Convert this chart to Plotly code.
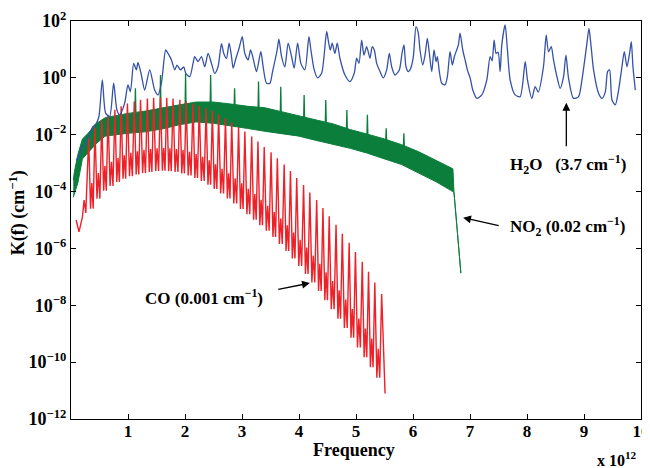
import plotly.graph_objects as go

# ---------------- data (frequencies in THz, values as log10 K) ----------------
# H2O (blue)
h2o_f = [0.093, 0.151, 0.181, 0.256, 0.327, 0.385, 0.444, 0.49, 0.55, 0.608, 0.678, 0.748, 0.806, 0.854,
         0.941, 0.999, 1.042, 1.1, 1.147, 1.175, 1.235, 1.293, 1.381, 1.468, 1.526, 1.586, 1.662, 1.702,
         1.762, 1.82, 1.86, 1.92, 1.978, 2.013, 2.083, 2.141, 2.171, 2.229, 2.289, 2.347, 2.405, 2.464,
         2.522, 2.58, 2.64, 2.68, 2.728, 2.774, 2.816, 2.844, 2.886, 2.949, 3.005, 3.049, 3.107, 3.15,
         3.195, 3.255, 3.33, 3.371, 3.43, 3.489, 3.536, 3.617, 3.647, 3.694, 3.752, 3.81, 3.87, 3.915,
         3.975, 4.033, 4.103, 4.174, 4.209, 4.267, 4.326, 4.397, 4.485, 4.513, 4.548, 4.583, 4.63, 4.671,
         4.718, 4.806, 4.894, 4.969, 5.011, 5.052, 5.099, 5.14, 5.187, 5.245, 5.285, 5.321, 5.363, 5.421,
         5.479, 5.538, 5.584, 5.626, 5.684, 5.76, 5.807, 5.842, 5.877, 5.918, 5.96, 6.006, 6.053, 6.093,
         6.123, 6.171, 6.211, 6.252, 6.287, 6.329, 6.369, 6.404, 6.427, 6.462, 6.504, 6.562, 6.603, 6.65,
         6.691, 6.726, 6.796, 6.826, 6.873, 6.914, 6.954, 7.002, 7.049, 7.119, 7.207, 7.295, 7.353, 7.388,
         7.423, 7.458, 7.493, 7.528, 7.558, 7.616, 7.657, 7.704, 7.792, 7.88, 7.968, 8.008, 8.085, 8.143,
         8.196, 8.289, 8.337, 8.377, 8.425, 8.465, 8.525, 8.583, 8.641, 8.683, 8.728, 8.816, 8.904, 8.964,
         9.052, 9.087, 9.122, 9.168, 9.255, 9.315, 9.373, 9.414, 9.449, 9.491, 9.549, 9.607, 9.666, 9.707,
         9.754, 9.8, 9.83, 9.859, 9.9]
h2o_log = [-2.9, -2.7, -2.48, -2.3, -1.95, -1.72, -1.6, -1.36, -0.07, -1.24, -1.36, -0.19, -1.13, -1.3,
           -0.89, -0.25, -0.48, 0.51, 0.28, 0.54, 0.1, -0.43, 0.28, -0.43, -0.6, -0.19, 0.98, 0.86,
           0.63, 0.28, 0.45, 0.28, 0.39, 0.16, 0.04, 0.51, 0.75, 0.57, 0.75, 0.39, 0.86, 0.51,
           0.16, 0.39, 1.2, 0.86, 0.69, 1.22, 0.75, 0.34, 0.63, 1.04, 1.45, 0.86, 0.63, 0.98,
           0.69, 0.22, 0.92, 0.39, -0.19, -0.19, 0.22, 0.98, 1.36, 0.75, 0.39, 1.22, 0.75, 0.34,
           1.22, 0.51, 0.28, 1.45, 0.98, 0.28, 0.0, 0.16, 1.63, 1.33, 0.98, 1.22, 0.86, 1.22,
           0.69, 0.1, -0.13, 0.16, 0.69, 0.51, 1.33, 0.8, 1.1, 0.69, 1.1, 0.98, 0.51, 0.22,
           0.0, 0.28, 0.86, 0.39, 0.1, 0.28, 0.86, 1.16, 0.39, 0.22, 0.34, 0.75, 1.8, 1.57,
           0.98, 0.45, 0.8, 1.39, 0.86, 0.22, 0.98, 0.57, 0.75, 0.22, -0.19, -0.25, 0.04, 0.92,
           0.45, 0.75, 1.16, 1.57, 0.98, 0.63, 0.28, 0.0, -0.43, -0.72, -0.6, -0.07, 0.75, 0.6,
           1.33, 0.86, 0.9, 0.22, 1.16, 1.86, 0.98, -0.07, -0.6, -0.66, 0.57, -0.07, -0.72, -0.31,
           -0.5, 0.39, 1.51, 0.92, 1.1, 0.63, 0.04, -0.37, 0.04, 0.8, 0.0, -0.72, -0.66, -0.07,
           1.22, 1.74, 1.16, 0.28, -0.54, -0.72, -0.5, 0.22, 0.28, -0.78, -0.95, -0.43, 0.39, 0.92,
           0.39, 0.86, 1.27, 0.39, -0.43]

# NO2 (green): continuum band (upper / lower edge), line spikes, and final drop
no2_f = [0.04, 0.06, 0.12, 0.2, 0.3, 0.45, 0.6, 0.8, 1.0, 1.3, 1.6, 1.9, 2.2, 2.5, 2.8, 3.1, 3.4,
         3.7, 4.0, 4.3, 4.6, 4.9, 5.2, 5.5, 5.8, 6.1, 6.4, 6.7]
no2_upper_log = [-3.6, -3.3, -2.7, -2.15, -1.95, -1.6, -1.4, -1.32, -1.25, -1.17, -1.05, -0.95, -0.85,
                 -0.85, -0.92, -1.0, -1.05, -1.2, -1.35, -1.48, -1.62, -1.82, -1.98, -2.15, -2.35,
                 -2.6, -2.9, -3.2]
no2_lower_log = [-4.2, -4.15, -3.7, -2.85, -2.65, -2.3, -2.05, -2.0, -1.95, -1.9, -1.8, -1.65, -1.55,
                 -1.6, -1.7, -1.78, -1.88, -1.97, -2.05, -2.2, -2.35, -2.48, -2.65, -2.85, -3.05,
                 -3.35, -3.65, -4.0]
no2_tail_f = [6.72, 6.84]
no2_tail_log = [-4.05, -6.87]
no2_spike_f = [1.13, 1.57, 2.01, 2.45, 2.87, 3.29, 3.68, 4.09, 4.47, 4.84, 5.20, 5.53, 5.84]
no2_spike_log = [-0.37, 0.1, 0.15, 0.1, -0.37, -0.13, -0.31, -0.6, -0.78, -1.13, -1.3, -1.77, -1.95]
no2_spike_base_log = [-1.2, -1.1, -1.0, -0.9, -1.0, -1.1, -1.25, -1.4, -1.55, -1.85, -2.0, -2.2, -2.4]

# CO (red): rotational lines (peak), minimum and weak secondary bump between lines
co_start_f = [0.09, 0.14, 0.20, 0.23, 0.26]
co_start_log = [-5.0, -5.42, -4.9, -4.3, -4.75]
co_line_f = [0.31, 0.42, 0.54, 0.65, 0.77, 0.88, 0.99, 1.11, 1.22, 1.34, 1.45, 1.57, 1.68, 1.79,
             1.91, 2.02, 2.14, 2.25, 2.37, 2.48, 2.59, 2.71, 2.82, 2.94, 3.05, 3.17, 3.28, 3.39,
             3.51, 3.62, 3.74, 3.85, 3.96, 4.08, 4.19, 4.31, 4.42, 4.53, 4.65, 4.76, 4.88, 4.99,
             5.11, 5.22, 5.33, 5.45]
co_peak_log = [-2.10, -1.75, -1.50, -1.30, -1.12, -1.00, -0.90, -0.83, -0.77, -0.73, -0.70, -0.69,
               -0.70, -0.73, -0.77, -0.83, -0.90, -0.98, -1.07, -1.17, -1.29, -1.42, -1.57, -1.73,
               -1.89, -2.06, -2.24, -2.43, -2.62, -2.83, -3.05, -3.28, -3.52, -3.77, -4.03, -4.30,
               -4.58, -4.87, -5.17, -5.48, -5.80, -6.13, -6.47, -6.82, -7.20, -7.60]
co_trough_log = [-4.60, -4.25, -3.97, -3.80, -3.66, -3.55, -3.46, -3.40, -3.35, -3.31, -3.28, -3.27,
                 -3.28, -3.31, -3.36, -3.43, -3.52, -3.63, -3.76, -3.91, -4.07, -4.24, -4.42, -4.61,
                 -4.80, -4.99, -5.18, -5.38, -5.60, -5.84, -6.09, -6.35, -6.62, -6.90, -7.20, -7.50,
                 -7.82, -8.14, -8.47, -8.80, -9.14, -9.48, -9.83, -10.18, -10.55]
co_bump_log = [-3.70, -3.35, -3.10, -2.95, -2.82, -2.72, -2.64, -2.58, -2.53, -2.50, -2.48, -2.47,
               -2.48, -2.50, -2.54, -2.60, -2.68, -2.78, -2.90, -3.04, -3.20, -3.36, -3.53, -3.71,
               -3.90, -4.09, -4.29, -4.50, -4.72, -4.95, -5.19, -5.44, -5.70, -5.97, -6.25, -6.54,
               -6.84, -7.15, -7.47, -7.80, -8.13, -8.47, -8.82, -9.17, -9.53]
co_end_f = [5.51]
co_end_log = [-11.1]

ytick_exp = [2, 0, -2, -4, -6, -8, -10, -12]
xtick_vals = [1, 2, 3, 4, 5, 6, 7, 8, 9, 10]

FONT = "Liberation Serif"
BLUE = "#3551a8"
GREEN = "#0b7e3c"
RED = "#ee2028"


def p10(v):
    return 10 ** v


fig = go.Figure()

# --- NO2 band polygon ---
poly_x = list(no2_f) + list(no2_tail_f) + [no2_tail_f[0]] + list(reversed(no2_f))
poly_y = ([p10(v) for v in no2_upper_log] + [p10(v) for v in no2_tail_log]
          + [p10(no2_tail_log[0])] + [p10(v) for v in reversed(no2_lower_log)])
fig.add_trace(go.Scatter(x=poly_x, y=poly_y, mode="lines", fill="toself", fillcolor=GREEN,
                         line=dict(color=GREEN, width=1), hoverinfo="skip"))
sx, sy = [], []
for f, pk, b in zip(no2_spike_f, no2_spike_log, no2_spike_base_log):
    sx += [f - 0.008, f, f + 0.008, None]
    sy += [p10(b), p10(pk), p10(b), None]
fig.add_trace(go.Scatter(x=sx, y=sy, mode="lines", line=dict(color=GREEN, width=1.3),
                         hoverinfo="skip"))

# --- CO ---
cx = list(co_start_f)
cy = [p10(v) for v in co_start_log]
n = len(co_line_f)
for k in range(n):
    cx.append(co_line_f[k])
    cy.append(p10(co_peak_log[k]))
    if k < n - 1:
        d = co_line_f[k + 1] - co_line_f[k]
        cx += [co_line_f[k] + 0.3 * d, co_line_f[k] + 0.5 * d, co_line_f[k] + 0.72 * d]
        cy += [p10(co_trough_log[k]), p10(co_bump_log[k]), p10(co_trough_log[k])]
cx += co_end_f
cy += [p10(v) for v in co_end_log]
fig.add_trace(go.Scatter(x=cx, y=cy, mode="lines", line=dict(color=RED, width=1.4),
                         hoverinfo="skip"))

# --- H2O ---
fig.add_trace(go.Scatter(x=h2o_f, y=[p10(v) for v in h2o_log], mode="lines",
                         line=dict(color=BLUE, width=1.3, shape="spline", smoothing=0.7),
                         hoverinfo="skip"))

axis_common = dict(showline=True, linecolor="black", linewidth=1.3, mirror="ticks",
                   ticks="inside", ticklen=5, tickcolor="black", tickwidth=1,
                   showgrid=False, zeroline=False, automargin=False,
                   ticklabeloverflow="allow")

fig.update_xaxes(range=[0, 10], tickvals=xtick_vals,
                 ticktext=[f"<b>{v}</b>" for v in xtick_vals], ticklabelstandoff=-4,
                 tickfont=dict(family=FONT, size=17, color="black"), **axis_common)
fig.update_yaxes(type="log", range=[-12, 2], tickvals=[10.0 ** e for e in ytick_exp],
                 ticktext=[f"<b>10<sup>{str(e).replace('-', '−')}</sup></b>" for e in ytick_exp],
                 tickfont=dict(family=FONT, size=18, color="black"), **axis_common)

ann_font = dict(family=FONT, size=17, color="black")
annotations = [
    dict(text="<b>Frequency</b>", x=0.496, y=-0.078, xref="paper", yref="paper",
         xanchor="center", yanchor="middle",
         showarrow=False, font=dict(family=FONT, size=18, color="black")),
    dict(text="<b>x 10<sup>12</sup></b>", x=0.958, y=-0.1, xref="paper", yref="paper",
         xanchor="center", yanchor="middle",
         showarrow=False, font=dict(family=FONT, size=16, color="black")),
    dict(text="<b>K(f) (cm<sup>−1</sup>)</b>", x=-0.094, y=0.518, xref="paper", yref="paper",
         xanchor="center", yanchor="middle",
         textangle=-90, showarrow=False, font=dict(family=FONT, size=18, color="black")),
    dict(text="<b>H<sub>2</sub>O   (3.7 cm<sup>−1</sup>)</b>", x=8.72, y=-3.06, xref="x", yref="y",
         showarrow=False, font=ann_font),
    dict(text="<b>NO<sub>2</sub> (0.02 cm<sup>−1</sup>)</b>", x=8.71, y=-5.24, xref="x", yref="y",
         showarrow=False, font=ann_font),
    dict(text="<b>CO (0.001 cm<sup>−1</sup>)</b>", x=2.33, y=-7.70, xref="x", yref="y",
         showarrow=False, font=ann_font),
    # arrows
    dict(text="", x=8.69, y=-0.88, ax=8.69, ay=-2.46, xref="x", yref="y", axref="x", ayref="y",
         showarrow=True, arrowhead=2, arrowsize=1.2, arrowwidth=1.3, arrowcolor="black"),
    dict(text="", x=6.88, y=-4.92, ax=7.53, ay=-5.21, xref="x", yref="y", axref="x", ayref="y",
         showarrow=True, arrowhead=2, arrowsize=1.2, arrowwidth=1.3, arrowcolor="black"),
    dict(text="", x=4.19, y=-7.22, ax=3.61, ay=-7.455, xref="x", yref="y", axref="x", ayref="y",
         showarrow=True, arrowhead=2, arrowsize=1.2, arrowwidth=1.3, arrowcolor="black"),
]

# the page body has an 8px margin, so the figure is 8px smaller and margins shifted accordingly
fig.update_layout(width=642, height=460, margin=dict(l=63, r=9, t=13, b=49),
                  plot_bgcolor="white", paper_bgcolor="white", showlegend=False,
                  font=dict(family=FONT, size=17, color="black"),
                  annotations=annotations)

fig.write_html("out.html")
